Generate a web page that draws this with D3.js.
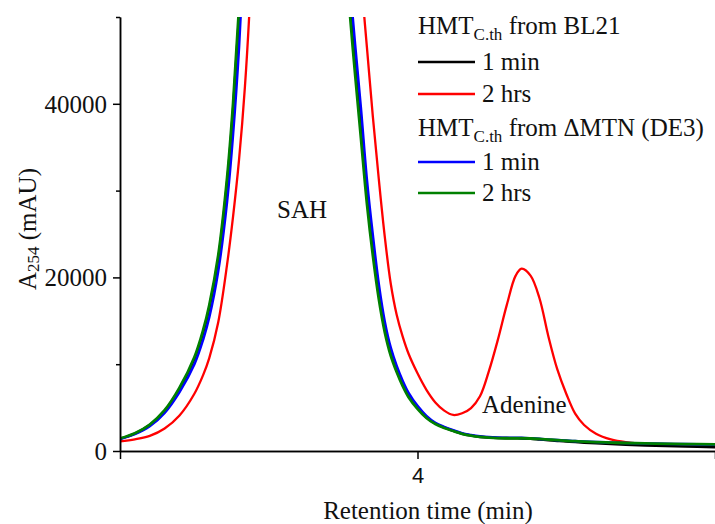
<!DOCTYPE html>
<html>
<head>
<meta charset="utf-8">
<script src="https://cdn.jsdelivr.net/npm/d3@7"></script>
<style>
  html, body { margin: 0; padding: 0; background: #fff; }
  svg { display: block; }
</style>
</head>
<body>
<svg id="chart" width="715" height="524"></svg>
<script>
// Retention time grid (min)
const retentionTime = [3.00, 3.05, 3.10, 3.15, 3.20, 3.25, 3.28, 3.30, 3.33, 3.36,
  3.38, 3.40, 3.42, 3.44, 3.47, 3.60, 3.72, 3.74, 3.76, 3.77,
  3.79, 3.81, 3.83, 3.85, 3.87, 3.89, 3.91, 3.93, 3.95, 3.97,
  4.00, 4.03, 4.06, 4.09, 4.12, 4.15, 4.18, 4.21, 4.24, 4.27,
  4.30, 4.33, 4.35, 4.38, 4.41, 4.44, 4.47, 4.50, 4.53, 4.56,
  4.60, 4.65, 4.70, 4.80, 4.90, 5.00];

// A254 (mAU) — HMT C.th from BL21, 1 min
const bl21_1min = [1400, 2000, 2980, 4600, 7150, 10600, 13700, 16450, 22000, 30900,
  39200, 50000, 64700, 82000, 112000, 180000, 98000, 75000, 57400, 52700,
  44600, 37100, 29400, 23300, 18100, 14100, 11300, 9350, 7750, 6400,
  4980, 3900, 3170, 2700, 2330, 2000, 1780, 1630, 1550, 1500,
  1480, 1470, 1460, 1410, 1330, 1250, 1170, 1100, 1030, 970,
  890, 800, 720, 600, 510, 450];

// A254 (mAU) — HMT C.th from BL21, 2 hrs
const bl21_2hrs = [1100, 1350, 1750, 2600, 4100, 6600, 8800, 10700, 14800, 21500,
  27000, 33500, 42000, 54000, 80000, 200000, 140000, 110000, 88000, 78000,
  63000, 54500, 46500, 38500, 31300, 24700, 19300, 15700, 13200, 11200,
  8950, 7050, 5600, 4650, 4150, 4350, 4950, 6300, 9200, 12800,
  16800, 20200, 21000, 20200, 17600, 13200, 9400, 6600, 4300, 3000,
  2000, 1350, 1030, 740, 620, 560];

// A254 (mAU) — HMT C.th from ΔMTN (DE3), 1 min
const dmtn_1min = [1380, 1950, 2850, 4400, 6800, 10000, 12900, 15400, 20700, 28800,
  36500, 46500, 60000, 77000, 105000, 180000, 102000, 78000, 60000, 55000,
  46900, 39400, 31200, 24800, 19200, 14900, 11900, 9800, 8100, 6700,
  5200, 4050, 3250, 2780, 2400, 2050, 1850, 1700, 1610, 1560,
  1530, 1520, 1510, 1460, 1400, 1320, 1250, 1190, 1140, 1090,
  1030, 970, 920, 850, 790, 740];

// A254 (mAU) — HMT C.th from ΔMTN (DE3), 2 hrs
const dmtn_2hrs = [1450, 2050, 3050, 4700, 7300, 10800, 14000, 16800, 22500, 31500,
  40000, 51000, 66000, 84000, 115000, 180000, 95000, 72000, 56000, 51500,
  43500, 36000, 28500, 22500, 17500, 13700, 11000, 9100, 7500, 6200,
  4850, 3800, 3100, 2650, 2300, 1980, 1760, 1620, 1540, 1490,
  1470, 1470, 1470, 1440, 1390, 1320, 1250, 1180, 1130, 1080,
  1030, 970, 920, 850, 800, 770];

const yTicksMajor = [0, 20000, 40000];
const yTicksMinor = [10000, 30000, 50000];
const xTickLabels = [4];
const xTicksBare = [3, 5];

const seriesList = [
  { name: "BL21 2 hrs", values: bl21_2hrs, color: "#ff0000", width: 2.3 },
  { name: "BL21 1 min", values: bl21_1min, color: "#000000", width: 2.6 },
  { name: "ΔMTN 1 min", values: dmtn_1min, color: "#0000ff", width: 2.6 },
  { name: "ΔMTN 2 hrs", values: dmtn_2hrs, color: "#008000", width: 2.8 }
];

const SERIF = "'Liberation Serif', 'Times New Roman', Times, 'DejaVu Serif', serif";
const SANS = "'Liberation Sans', Arial, sans-serif";

const svg = d3.select("#chart");
const plotLeft = 120, plotRight = 715, plotTop = 17, plotBottom = 451;

const x = d3.scaleLinear().domain([3, 5]).range([plotLeft, plotRight]);
const y = d3.scaleLinear().domain([0, 50000]).range([plotBottom, plotTop]);

svg.append("defs").append("clipPath").attr("id", "plotClip")
  .append("rect").attr("x", plotLeft).attr("y", plotTop)
  .attr("width", plotRight - plotLeft).attr("height", plotBottom - plotTop);

// Traces
const line = d3.line()
  .x((d, i) => x(retentionTime[i]))
  .y(d => y(d))
  .curve(d3.curveCatmullRom.alpha(0.5));

const traces = svg.append("g").attr("clip-path", "url(#plotClip)");
seriesList.forEach(s => {
  traces.append("path")
    .attr("d", line(s.values))
    .attr("fill", "none")
    .attr("stroke", s.color)
    .attr("stroke-width", s.width)
    .attr("stroke-linejoin", "round");
});

// Y axis: minor ticks then labelled major ticks
const yMinor = svg.append("g").attr("transform", `translate(${plotLeft},0)`)
  .call(d3.axisLeft(y).tickValues(yTicksMinor).tickSize(4).tickSizeOuter(0).tickFormat(""));
const yMajor = svg.append("g").attr("transform", `translate(${plotLeft},0)`)
  .call(d3.axisLeft(y).tickValues(yTicksMajor).tickSize(7).tickSizeOuter(0).tickPadding(6).tickFormat(d3.format("d")));
[yMinor, yMajor].forEach(g => {
  g.selectAll("path, line").attr("stroke", "#000").attr("stroke-width", 1.5);
});
yMajor.attr("font-family", SERIF).attr("font-size", 25);
yMajor.selectAll("text")
  .style("font-family", SERIF)
  .attr("fill", "#111")
  .attr("dy", "0.33em");

// X axis
const xBare = svg.append("g").attr("transform", `translate(0,${plotBottom})`)
  .call(d3.axisBottom(x).tickValues(xTicksBare).tickSize(8).tickSizeOuter(0).tickFormat(""));
const xLab = svg.append("g").attr("transform", `translate(0,${plotBottom})`)
  .call(d3.axisBottom(x).tickValues(xTickLabels).tickSize(8).tickSizeOuter(0).tickPadding(8).tickFormat(d3.format("d")));
[xBare, xLab].forEach(g => {
  g.selectAll("path, line").attr("stroke", "#000").attr("stroke-width", 1.5);
});
xLab.attr("font-family", SANS).attr("font-size", 22);
xLab.selectAll("text").style("font-family", SANS).attr("fill", "#111");

// Text layer in a serif face
const txt = svg.append("g").attr("font-family", SERIF).style("font-family", SERIF)
  .attr("font-size", 25).attr("fill", "#111");

// Axis titles
txt.append("text")
  .attr("x", 428).attr("y", 519)
  .attr("text-anchor", "middle")
  .text("Retention time (min)");

const yTitle = txt.append("text")
  .attr("transform", "translate(36,229) rotate(-90)")
  .attr("text-anchor", "middle");
yTitle.append("tspan").text("A");
yTitle.append("tspan").attr("font-size", 17).attr("dy", 3).text("254");
yTitle.append("tspan").attr("dy", -3).text(" (mAU)");

// Peak annotations
txt.append("text")
  .attr("x", 302).attr("y", 218).attr("text-anchor", "middle")
  .text("SAH");
txt.append("text")
  .attr("x", 482).attr("y", 413)
  .text("Adenine");

// Legend
function header(yBase, strain) {
  const t = txt.append("text").attr("x", 418).attr("y", yBase);
  t.append("tspan").text("HMT");
  t.append("tspan").attr("font-size", 17).attr("dy", 6).text("C.th");
  t.append("tspan").attr("dy", -6).text(" from " + strain);
}
function entry(yLine, color, label) {
  txt.append("line").attr("x1", 418).attr("x2", 475)
    .attr("y1", yLine).attr("y2", yLine)
    .attr("stroke", color).attr("stroke-width", 2.6);
  txt.append("text").attr("x", 482).attr("y", yLine + 8).text(label);
}
header(34, "BL21");
entry(62, "#000000", "1 min");
entry(94, "#ff0000", "2 hrs");
header(136, "ΔMTN (DE3)");
entry(162, "#0000ff", "1 min");
entry(193, "#008000", "2 hrs");
</script>
</body>
</html>
